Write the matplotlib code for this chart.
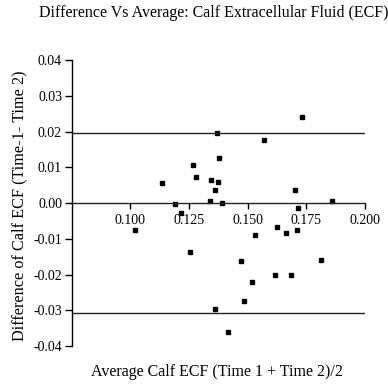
import matplotlib
matplotlib.use("Agg")
import matplotlib.pyplot as plt
from matplotlib.ticker import FixedLocator, FormatStrFormatter

plt.rcParams['font.family'] = ['Liberation Serif', 'DejaVu Serif']
plt.rcParams['axes.unicode_minus'] = False

# Bland-Altman data: mean of the two measurements vs. their difference
average = [0.1021, 0.1136, 0.1190, 0.1218, 0.1253, 0.1268, 0.1282, 0.1339,
           0.1346, 0.1362, 0.1368, 0.1373, 0.1380, 0.1391, 0.1362, 0.1418,
           0.1474, 0.1485, 0.1519, 0.1532, 0.1572, 0.1617, 0.1624, 0.1664,
           0.1687, 0.1704, 0.1711, 0.1717, 0.1734, 0.1815, 0.1861]
difference = [-0.0076, 0.0055, -0.0003, -0.0029, -0.0136, 0.0106, 0.0073, 0.0006,
              0.0066, 0.0036, 0.0195, 0.0058, 0.0127, 0.0000, -0.0297, -0.0361,
              -0.0162, -0.0273, -0.0220, -0.0090, 0.0176, -0.0201, -0.0068, -0.0083,
              -0.0201, 0.0036, -0.0076, -0.0014, 0.0241, -0.0159, 0.0005]

# limits of agreement
upper_loa = 0.0196
lower_loa = -0.0307

x_ticks = [0.100, 0.125, 0.150, 0.175, 0.200]
y_ticks = [-0.04, -0.03, -0.02, -0.01, 0.00, 0.01, 0.02, 0.03, 0.04]

fig = plt.figure(figsize=(3.88, 3.88), dpi=100)
ax = fig.add_axes([0.185, 0.108, 0.755, 0.737])

ax.plot(average, difference, 's', color='black', markersize=3.2, clip_on=False)
ax.hlines([upper_loa, lower_loa], 0.075, 0.200, colors='#222222', linewidth=1.0)

ax.set_xlim(0.075, 0.200)
ax.set_ylim(-0.04, 0.04)

for s in ('top', 'right'):
    ax.spines[s].set_visible(False)
ax.spines['bottom'].set_position(('data', 0))
ax.spines['left'].set_linewidth(1.0)
ax.spines['bottom'].set_linewidth(1.0)
ax.spines['bottom'].set_color('#222222')

ax.xaxis.set_major_locator(FixedLocator(x_ticks))
ax.yaxis.set_major_locator(FixedLocator(y_ticks))
ax.xaxis.set_major_formatter(FormatStrFormatter('%.3f'))
ax.yaxis.set_major_formatter(FormatStrFormatter('%.2f'))
ax.tick_params(axis='both', labelsize=10, width=1.0, direction='out')
ax.tick_params(axis='x', length=4, pad=4)
ax.tick_params(axis='y', length=5, pad=2)

fig.text(0.55, 0.966, 'Difference Vs Average: Calf Extracellular Fluid (ECF)',
         ha='center', va='center', fontsize=11.5)
fig.text(0.05, 0.47, 'Difference of Calf ECF (Time-1- Time 2)', rotation=90,
         ha='center', va='center', fontsize=11.7)
fig.text(0.56, 0.04, 'Average Calf ECF (Time 1 + Time 2)/2',
         ha='center', va='center', fontsize=11.5)

fig.savefig('out.png', dpi=100)
